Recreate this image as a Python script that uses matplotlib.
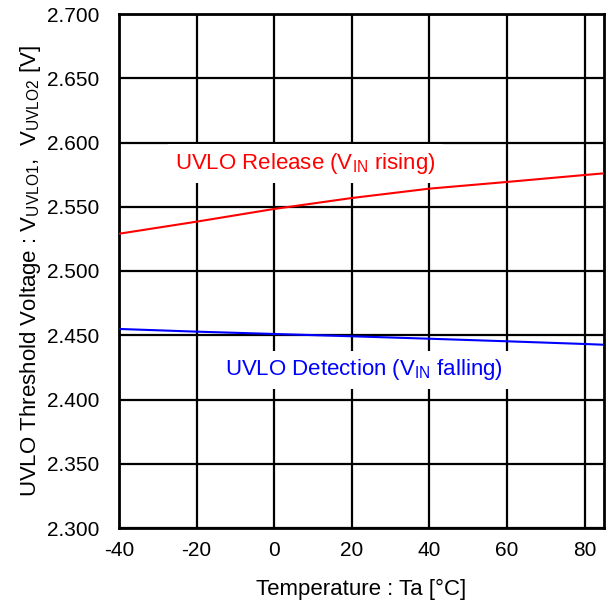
import numpy as np
import matplotlib.pyplot as plt

plt.rcParams['font.family'] = ['Liberation Sans', 'DejaVu Sans']
plt.rcParams['mathtext.fontset'] = 'custom'
plt.rcParams['mathtext.rm'] = 'Liberation Sans'
plt.rcParams['axes.unicode_minus'] = False

# temperature [degC] and thresholds [V]
temp = [-40, -20, 0, 20, 40, 60, 80, 85]
uvlo_release = [2.529, 2.5384, 2.5483, 2.5568, 2.5641, 2.5693, 2.5747, 2.576]
uvlo_detect = [2.4549, 2.4528, 2.4510, 2.4492, 2.4473, 2.4453, 2.4432, 2.4426]

x_ticks = [-40, -20, 0, 20, 40, 60, 80]
y_ticks = [2.300, 2.350, 2.400, 2.450, 2.500, 2.550, 2.600, 2.650, 2.700]

fig = plt.figure(figsize=(6.13, 6.08), dpi=100)
ax = fig.add_axes([119 / 613, 1 - 528 / 608, (604 - 119) / 613, (528 - 14) / 608])

ax.set_xlim(-40, 85)
ax.set_ylim(2.300, 2.700)
ax.set_xticks(x_ticks)
ax.set_yticks(y_ticks)
ax.set_yticklabels([f"{v:.3f}" for v in y_ticks])
ax.tick_params(length=0, labelsize=15)
ax.tick_params(axis='y', pad=14)
ax.tick_params(axis='x', pad=9)
ax.grid(True, color='black', linewidth=1.6)
ax.set_axisbelow(True)
for s in ax.spines.values():
    s.set_linewidth(2)

ax.plot(temp, uvlo_release, color='#ff0000', linewidth=1.5, zorder=3)
ax.plot(temp, uvlo_detect, color='#0000ff', linewidth=1.5, zorder=3)

ax.text(-25.5, 2.5835, r'UVLO Release (V$_{\mathregular{IN}}$ rising)', color='#ff0000',
        fontsize=16, va='center', ha='left', zorder=4,
        bbox=dict(facecolor='white', edgecolor='none', pad=5))
ax.text(-12.6, 2.423, r'UVLO Detection (V$_{\mathregular{IN}}$ falling)', color='#0000ff',
        fontsize=16, va='center', ha='left', zorder=4,
        bbox=dict(facecolor='white', edgecolor='none', pad=5))

ax.set_xlabel('Temperature : Ta [°C]', fontsize=16, labelpad=14)
ax.set_ylabel(r'UVLO Threshold Voltage : V$_{\mathregular{UVLO1}}$,  V$_{\mathregular{UVLO2}}$ [V]',
              fontsize=16, labelpad=3)

fig.savefig('out.png', dpi=100)
